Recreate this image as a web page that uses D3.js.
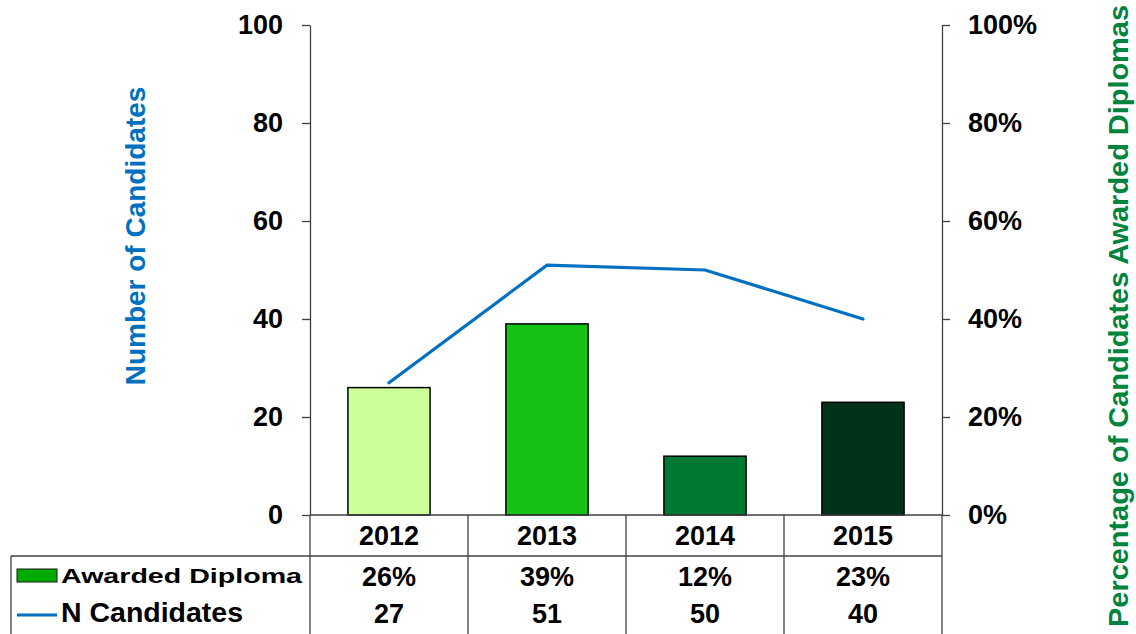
<!DOCTYPE html>
<html><head><meta charset="utf-8">
<script src="https://cdn.jsdelivr.net/npm/d3@7"></script>
<style>
body{margin:0;background:#fff;}
text{font-family:"Liberation Sans",Arial,sans-serif;font-weight:bold;}
</style></head>
<body><svg id="c" width="1136" height="634"></svg>
<script>
const years = ["2012","2013","2014","2015"];
const awardedPct = [26, 39, 12, 23];
const nCandidates = [27, 51, 50, 40];
const barColors = ["#CCFF99","#14C314","#007A33","#00331A"];
const leftTicks = [0,20,40,60,80,100];
const rightTicks = [0,0.2,0.4,0.6,0.8,1.0];

const svg = d3.select("#c");
const L = 310, R = 942, T = 25, B = 515;
const x = d3.scaleBand().domain(years).range([L,R]).paddingInner(0.48).paddingOuter(0.24);
const yL = d3.scaleLinear().domain([0,100]).range([B,T]);
const yR = d3.scaleLinear().domain([0,1]).range([B,T]);
const axisColor = "#404040";

// bars
svg.selectAll("rect.bar").data(years).enter().append("rect")
  .attr("x", d=>x(d)).attr("width", x.bandwidth())
  .attr("y", (d,i)=>yR(awardedPct[i]/100)).attr("height",(d,i)=>B-yR(awardedPct[i]/100))
  .attr("fill",(d,i)=>barColors[i]).attr("stroke","#000").attr("stroke-width",1.5);

// line
const line = d3.line().x((d,i)=>x(years[i])+x.bandwidth()/2).y(d=>yL(d));
svg.append("path").datum(nCandidates).attr("d",line)
  .attr("fill","none").attr("stroke","#0070C0").attr("stroke-width",3.2).attr("stroke-linecap","round");

// left axis
const gl = svg.append("g").attr("transform",`translate(${L},0)`)
  .call(d3.axisLeft(yL).tickValues(leftTicks).tickSize(8).tickPadding(19).tickSizeOuter(0));
// right axis
const gr = svg.append("g").attr("transform",`translate(${R},0)`)
  .call(d3.axisRight(yR).tickValues(rightTicks).tickSize(8).tickPadding(18).tickSizeOuter(0)
    .tickFormat(d3.format(".0%")));
[gl,gr].forEach(g=>{
  g.select(".domain").attr("stroke",axisColor).attr("stroke-width",1.3);
  g.selectAll(".tick line").attr("stroke",axisColor).attr("stroke-width",1.3);
  g.selectAll(".tick text").attr("fill","#000").style("font-size","27px")
    .style("font-family","'Liberation Sans',Arial,sans-serif").style("font-weight","bold");
});

// x axis line (zero)
svg.append("line").attr("x1",L).attr("x2",R).attr("y1",B).attr("y2",B)
  .attr("stroke",axisColor).attr("stroke-width",1.3);

// data table
const tableBottom = 640;
const bounds = years.map(d=>x(d)-x.step()*x.paddingInner()/2).concat([R]);
svg.selectAll("line.vt").data(bounds).enter().append("line")
  .attr("x1",d=>d).attr("x2",d=>d).attr("y1",B).attr("y2",tableBottom)
  .attr("stroke",axisColor).attr("stroke-width",1.3);
svg.append("line").attr("x1",11).attr("x2",R).attr("y1",556).attr("y2",556)
  .attr("stroke",axisColor).attr("stroke-width",1.3);
svg.append("line").attr("x1",11).attr("x2",11).attr("y1",556).attr("y2",tableBottom)
  .attr("stroke",axisColor).attr("stroke-width",1.3);

const cx = d=>x(d)+x.bandwidth()/2;
svg.selectAll("text.yr").data(years).enter().append("text")
  .attr("x",cx).attr("y",545).attr("text-anchor","middle").style("font-size","27px").text(d=>d);
svg.selectAll("text.pct").data(years).enter().append("text")
  .attr("x",cx).attr("y",586).attr("text-anchor","middle").style("font-size","27px")
  .text((d,i)=>awardedPct[i]+"%");
svg.selectAll("text.n").data(years).enter().append("text")
  .attr("x",cx).attr("y",623).attr("text-anchor","middle").style("font-size","27px")
  .text((d,i)=>nCandidates[i]);

// legend keys
svg.append("rect").attr("x",17).attr("y",569).attr("width",40).attr("height",13)
  .attr("fill","#00AA00").attr("stroke","#1a1a1a").attr("stroke-width",1);
svg.append("line").attr("x1",17).attr("x2",57).attr("y1",615).attr("y2",615)
  .attr("stroke","#0070C0").attr("stroke-width",3.2);
svg.append("text").attr("transform","translate(61,583) scale(1,0.74)")
  .style("font-size","27px").attr("textLength",241).attr("lengthAdjust","spacingAndGlyphs")
  .text("Awarded Diploma");
svg.append("text").attr("x",61).attr("y",622).style("font-size","27px")
  .attr("textLength",182).attr("lengthAdjust","spacingAndGlyphs").text("N Candidates");

// axis titles
svg.append("text").attr("transform","translate(145,236) rotate(-90)")
  .attr("text-anchor","middle").attr("fill","#0070C0").style("font-size","28px")
  .text("Number of Candidates");
svg.append("text").attr("transform","translate(1128,316) rotate(-90)")
  .attr("text-anchor","middle").attr("fill","#00843D").style("font-size","28px")
  .attr("textLength",622).attr("lengthAdjust","spacingAndGlyphs")
  .text("Percentage of Candidates Awarded  Diplomas");
</script></body></html>
